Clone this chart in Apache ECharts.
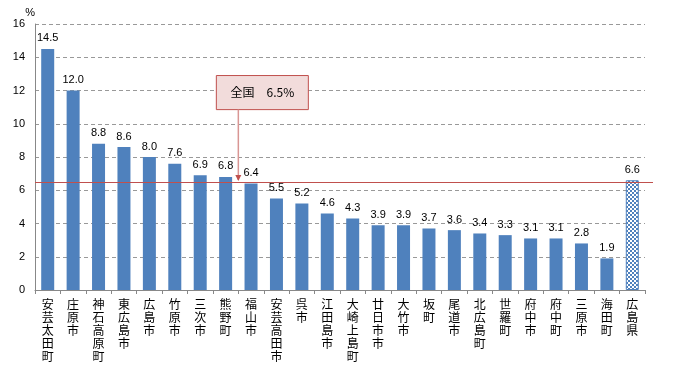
<!DOCTYPE html>
<html><head><meta charset="utf-8">
<script src="https://cdn.jsdelivr.net/npm/echarts@6/dist/echarts.min.js"></script>
<style>html,body{margin:0;padding:0;background:#fff}#c{width:678px;height:371px}</style>
</head><body><div id="c"></div>
<script>
const categories = ['安芸太田町','庄原市','神石高原町','東広島市','広島市','竹原市','三次市','熊野町','福山市','安芸高田市','呉市','江田島市','大崎上島町','廿日市市','大竹市','坂町','尾道市','北広島町','世羅町','府中市','府中町','三原市','海田町','広島県'];
const values = [14.5,12.0,8.8,8.6,8.0,7.6,6.9,6.8,6.4,5.5,5.2,4.6,4.3,3.9,3.9,3.7,3.6,3.4,3.3,3.1,3.1,2.8,1.9,6.6];
const nationalValue = 6.5;
const nationalLabel = '全国　6.5%';
const yTicks = [0,2,4,6,8,10,12,14,16];

const pc = document.createElement('canvas');
pc.width = 4; pc.height = 4;
const g = pc.getContext('2d');
g.fillStyle = '#fff'; g.fillRect(0,0,4,4);
g.fillStyle = '#4f81bd';
g.fillRect(0,0,2,2); g.fillRect(2,2,2,2);

const blue = '#4f81bd';
const data = values.map((v,i)=> i === values.length-1
  ? {value:v, itemStyle:{color:{image:pc, repeat:'repeat'}, borderColor:blue, borderWidth:1}}
  : {value:v});

const chart = echarts.init(document.getElementById('c'));
const font = '"Noto Sans CJK JP", "Noto Sans", sans-serif';
chart.setOption({
  animation:false,
  grid:{left:35,right:33,top:24,bottom:81},
  xAxis:{type:'category',data:categories,
    axisLine:{lineStyle:{color:'#888'}},
    axisTick:{show:true,length:4,lineStyle:{color:'#888'}},
    axisLabel:{interval:0,margin:8,fontSize:12,lineHeight:13,color:'#000',fontFamily:font,
      formatter:v=>v.split('').join('\n')}},
  yAxis:{type:'value',min:yTicks[0],max:yTicks[yTicks.length-1],interval:2,
    name:'%',nameLocation:'end',nameGap:6,
    nameTextStyle:{fontSize:11,color:'#000',align:'right',padding:[0,0,0,0],fontFamily:'Liberation Sans'},
    axisLine:{show:true,lineStyle:{color:'#888'}},
    axisTick:{show:false},
    axisLabel:{fontSize:11,color:'#000',margin:10,fontFamily:'Liberation Sans'},
    splitLine:{lineStyle:{color:'#999',type:[4,3]}}},
  series:[{type:'bar',data:data,barWidth:13,itemStyle:{color:blue},
    label:{show:true,position:'top',distance:5,fontSize:11,color:'#000',fontFamily:'Liberation Sans',
      formatter:p=>p.value.toFixed(1)},
    markLine:{symbol:'none',silent:true,label:{show:false},
      lineStyle:{color:'#c0504d',width:1,type:'solid'},
      data:[{yAxis:nationalValue}]}}]
});

const pLine = chart.convertToPixel({xAxisIndex:0,yAxisIndex:0},[7,nationalValue]);
const pNext = chart.convertToPixel({xAxisIndex:0,yAxisIndex:0},[8,nationalValue]);
const pLast = chart.convertToPixel({xAxisIndex:0,yAxisIndex:0},[categories.length-1,nationalValue]);
const catW = pNext[0]-pLine[0];
const gridRight = pLast[0]+catW/2;
const ax = (pLine[0]+pNext[0])/2;
const boxTop = chart.convertToPixel({yAxisIndex:0},12.9);
const boxBot = chart.convertToPixel({yAxisIndex:0},10.85);
chart.setOption({graphic:[
  {type:'line',shape:{x1:gridRight,y1:Math.round(pLine[1])+0.5,x2:gridRight+8,y2:Math.round(pLine[1])+0.5},style:{stroke:'#c0504d',lineWidth:1}},
  {type:'rect',shape:{x:ax-22,y:boxTop,width:92,height:boxBot-boxTop},
   style:{fill:'#f2dcdb',stroke:'#c0504d',lineWidth:1}},
  {type:'text',style:{x:ax+24,y:(boxTop+boxBot)/2,text:nationalLabel,font:'12px "Noto Sans CJK JP"',fill:'#000',align:'center',verticalAlign:'middle'}},
  {type:'line',shape:{x1:ax,y1:boxBot,x2:ax,y2:pLine[1]-2},style:{stroke:'#d99694',lineWidth:1.5}},
  {type:'polygon',shape:{points:[[ax-3,pLine[1]-7],[ax+3,pLine[1]-7],[ax,pLine[1]-1]]},style:{fill:'#c0504d'}}
]});
</script></body></html>
